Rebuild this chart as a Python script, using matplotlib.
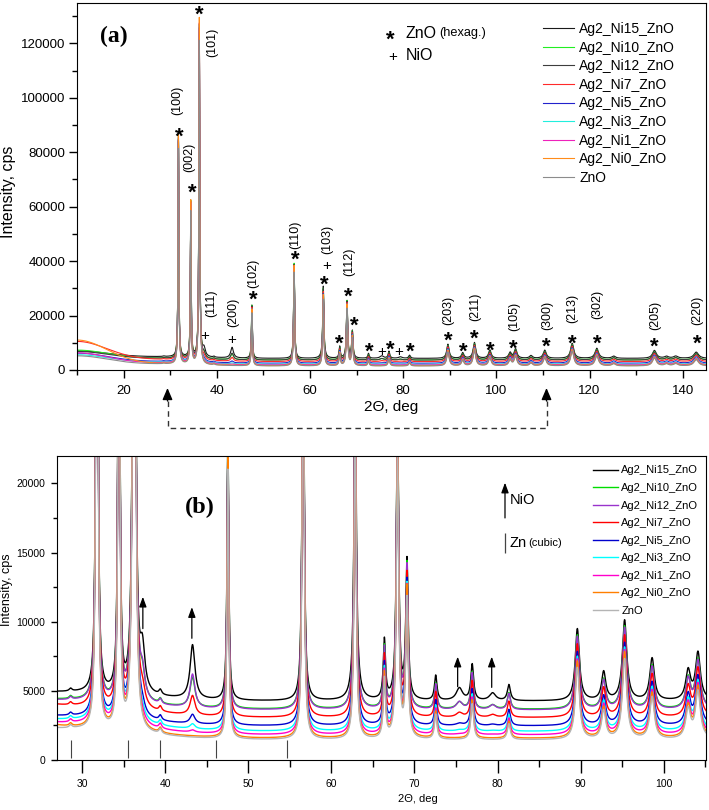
import numpy as np
import matplotlib
matplotlib.use('Agg')
import matplotlib.pyplot as plt
from matplotlib import font_manager
from matplotlib.lines import Line2D
from matplotlib.ticker import MultipleLocator, FormatStrFormatter

plt.rcParams['font.family'] = ['Liberation Sans', 'DejaVu Sans']
installed = {f.name for f in font_manager.fontManager.ttflist}
HAS_NARROW = 'Liberation Sans Narrow' in installed
if HAS_NARROW:
    NARROW = ['Liberation Sans Narrow', 'Liberation Sans', 'DejaVu Sans']
else:
    NARROW = ['Liberation Sans', 'DejaVu Sans']
SERIF = ['Liberation Serif', 'DejaVu Serif']

# samples, legend order
samples = ['Ag2_Ni15_ZnO', 'Ag2_Ni10_ZnO', 'Ag2_Ni12_ZnO', 'Ag2_Ni7_ZnO', 'Ag2_Ni5_ZnO',
           'Ag2_Ni3_ZnO', 'Ag2_Ni1_ZnO', 'Ag2_Ni0_ZnO', 'ZnO']
colors_a = ['#1a1a1a', '#22ee22', '#3d3d3d', '#ff2a2a', '#2222cc',
            '#22eedd', '#ee22bb', '#ff8c1a', '#8c8c8c']
colors_b = ['#000000', '#00dd00', '#9933cc', '#ff0000', '#0000cc',
            '#00ffff', '#ff00cc', '#ff7f00', '#b4b4b4']

# background (cps)
bg_level = [4250, 3650, 3600, 3050, 2450, 2050, 1800, 1550, 1450]   # flat part, 50-105 deg
bg_hump = [600, 650, 650, 750, 650, 800, 800, 700, 750]             # extra at 28 deg
bg_start = [7000, 7300, 6800, 10500, 6200, 5600, 6300, 11000, 5200]  # total at 10 deg

# peak intensity factors per sample
zno_scale = [1.0, 1.03, 1.02, 1.02, 1.03, 1.04, 1.05, 1.07, 1.0]
nio_scale = [1.0, 0.55, 0.62, 0.36, 0.17, 0.09, 0.04, 0.0, 0.0]

# ZnO (hexagonal) reflections: position, height above background, half width
zno_pos = [31.77, 34.42, 36.25, 47.54, 56.60, 62.86, 66.38, 67.96, 69.10, 72.56,
           76.95, 81.37, 89.61, 92.78, 95.30, 98.61, 102.95, 104.13, 107.43, 110.39,
           116.28, 121.56, 125.20, 133.93, 136.52, 138.50, 142.90]
zno_amp = [79000, 56000, 119000, 19500, 34500, 24500, 4300, 21000, 10000, 1800,
           2600, 1150, 5200, 2050, 5800, 3050, 2100, 3400, 1000, 3000,
           5500, 3700, 800, 2900, 700, 800, 2300]
zno_hw = [0.10, 0.10, 0.11, 0.12, 0.13, 0.14, 0.16, 0.16, 0.17, 0.18,
          0.20, 0.22, 0.30, 0.30, 0.32, 0.33, 0.35, 0.35, 0.36, 0.38,
          0.40, 0.44, 0.46, 0.50, 0.50, 0.55, 0.60]

# NiO (cubic) reflections, heights for Ag2_Ni15_ZnO
nio_pos = [37.25, 43.28, 62.88, 75.41, 79.41]
nio_amp = [3000, 3900, 2000, 900, 550]
nio_hw = [0.35, 0.35, 0.40, 0.45, 0.45]

# weak bumps common to all samples
minor_pos = [28.6, 39.4]
minor_amp = [200, 350]
minor_hw = [0.2, 0.2]

# Zn (cubic) reference lines in (b)
zn_lines = [28.7, 35.5, 39.4, 46.1, 54.7]

two_theta = np.arange(10, 145.01, 0.01)


def lorentz_sum(x, pos, amp, hw):
    out = np.zeros_like(x)
    for c, a, w in zip(pos, amp, hw):
        out += a * w ** 2 / ((x - c) ** 2 + w ** 2)
    return out


zno = lorentz_sum(two_theta, zno_pos, zno_amp, zno_hw)
nio = lorentz_sum(two_theta, nio_pos, nio_amp, nio_hw)
minor = lorentz_sum(two_theta, minor_pos, minor_amp, minor_hw)

curves = []
for i in range(len(samples)):
    hump = bg_hump[i] * np.where(two_theta < 28, 1.0, np.exp(-((two_theta - 28) / 12) ** 2))
    excess = (bg_start[i] - bg_level[i] - bg_hump[i]) * np.exp(-((two_theta - 10) / 9) ** 2)
    curves.append(bg_level[i] + hump + excess + zno_scale[i] * zno + nio_scale[i] * nio + minor)

W, H = 709, 810
fig = plt.figure(figsize=(W / 100, H / 100), dpi=100)
ax_a = fig.add_axes([77 / W, 1 - 370 / H, 629 / W, 367 / H])
ax_b = fig.add_axes([57.3 / W, 1 - 760 / H, 648.7 / W, 304.3 / H])

# ---- panel (a)
for y, c, name in zip(curves, colors_a, samples):
    ax_a.plot(two_theta, y, color=c, lw=0.8, label=name)
ax_a.set_xlim(10, 145)
ax_a.set_ylim(0, 134800)
ax_a.xaxis.set_major_locator(MultipleLocator(20))
ax_a.xaxis.set_minor_locator(MultipleLocator(10))
ax_a.yaxis.set_major_locator(MultipleLocator(20000))
ax_a.yaxis.set_minor_locator(MultipleLocator(10000))
ax_a.yaxis.set_major_formatter(FormatStrFormatter('%d'))
ax_a.tick_params(which='both', direction='out', labelsize=9.5, width=1)
ax_a.tick_params(which='major', length=5.5, pad=3)
ax_a.tick_params(which='minor', length=3.5)
ax_a.tick_params(axis='x', pad=5)
ax_a.set_xlabel('2Θ, deg', fontsize=11)
ax_a.xaxis.set_label_coords(0.5, -0.082)
ax_a.set_ylabel('Intensity, cps', fontsize=11.5)
ax_a.yaxis.set_label_coords(-0.097, 0.485)
ax_a.legend(loc='upper left', bbox_to_anchor=(0.741, 0.948), frameon=False, fontsize=10,
            handlelength=2.2, handletextpad=0.4, labelspacing=0.33, borderpad=0,
            borderaxespad=0)
ax_a.text(0.037, 0.91, '(a)', transform=ax_a.transAxes, fontsize=17, fontweight='bold',
          family=SERIF, ha='left', va='center')

hkl_labels = ['(100)', '(002)', '(101)', '(111)', '(200)', '(102)', '(110)', '(103)', '(112)',
              '(203)', '(211)', '(105)', '(300)', '(213)', '(302)', '(205)', '(220)']
hkl_x = [31.5, 34.1, 39.0, 38.8, 43.5, 47.8, 56.8, 63.7, 68.4,
         89.7, 95.5, 103.8, 110.9, 116.3, 121.7, 134.1, 143.1]
hkl_y = [99200, 78000, 120500, 24600, 21300, 35600, 49600, 47800, 39700,
         22000, 23200, 19500, 20200, 22700, 23900, 20200, 22000]
for t, x, y in zip(hkl_labels, hkl_x, hkl_y):
    ax_a.text(x, y, t, rotation=90, fontsize=9, ha='center', va='center')

star_x = [31.95, 34.7, 36.25, 47.8, 56.8, 63.1, 66.3, 68.2, 69.5, 72.7, 77.2, 81.5,
          89.7, 92.9, 95.3, 98.7, 103.6, 110.7, 116.3, 121.7, 133.9, 143.1]
star_y = [88200, 67600, 133000, 28300, 43000, 34000, 12100, 29400, 18700, 9200, 10000, 9200,
          13400, 9200, 14000, 9800, 10500, 11000, 12100, 12100, 11000, 12100]
for x, y in zip(star_x, star_y):
    ax_a.annotate('*', xy=(x, y), xytext=(0, -9.4), textcoords='offset points',
                  ha='center', va='baseline', fontsize=16, fontweight='bold')
plus_x = [37.5, 43.1, 63.5, 75.3, 79.1]
plus_y = [12900, 11700, 38600, 7300, 7300]
for x, y in zip(plus_x, plus_y):
    ax_a.annotate('+', xy=(x, y), xytext=(0, -4), textcoords='offset points',
                  ha='center', va='baseline', fontsize=11)

# phase key
ax_a.annotate('*', xy=((390.7 - 77) / 629, (370 - 33) / 367), xycoords='axes fraction',
              xytext=(0, -9.4), textcoords='offset points', ha='center', va='baseline',
              fontsize=16, fontweight='bold')
ax_a.text((406 - 77) / 629, (370 - 33) / 367, 'ZnO', transform=ax_a.transAxes,
          fontsize=11.5, ha='left', va='center')
ax_a.text((439 - 77) / 629, (370 - 33) / 367, '(hexag.)', transform=ax_a.transAxes,
          fontsize=9.2, ha='left', va='center')
ax_a.annotate('+', xy=((392.3 - 77) / 629, (370 - 55) / 367), xycoords='axes fraction',
              xytext=(0, -4), textcoords='offset points', ha='center', va='baseline',
              fontsize=11)
ax_a.text((406 - 77) / 629, (370 - 55) / 367, 'NiO', transform=ax_a.transAxes,
          fontsize=11.5, ha='left', va='center')

# ---- connector between panels
for xp in (167.5, 546.5):
    ax_a.annotate('', xy=(xp, H - 388), xycoords='figure pixels',
                  xytext=(xp, H - 401), textcoords='figure pixels',
                  arrowprops=dict(arrowstyle='-|>,head_length=0.7,head_width=0.3',
                                  color='black', lw=1, shrinkA=0, shrinkB=0))
fig.add_artist(Line2D([167.5 / W, 167.5 / W, 546.5 / W, 546.5 / W],
                      [1 - 401 / H, 1 - 428 / H, 1 - 428 / H, 1 - 401 / H],
                      transform=fig.transFigure, color='#333333', lw=1,
                      ls=(0, (4, 3))))

# ---- panel (b)
small = 9.5 if HAS_NARROW else 8
for y, c, name in zip(curves, colors_b, samples):
    ax_b.plot(two_theta, y, color=c, lw=1.0, label=name)
ax_b.vlines(zn_lines, 150, 1450, color='#444444', lw=0.8)
ax_b.set_xlim(27, 105.1)
ax_b.set_ylim(0, 22000)
ax_b.xaxis.set_major_locator(MultipleLocator(10))
ax_b.xaxis.set_minor_locator(MultipleLocator(5))
ax_b.yaxis.set_major_locator(MultipleLocator(5000))
ax_b.yaxis.set_minor_locator(MultipleLocator(2500))
ax_b.tick_params(which='both', direction='out', width=1,
                 labelsize=8 if HAS_NARROW else 7.5)
ax_b.tick_params(axis='x', which='major', length=9, pad=5)
ax_b.tick_params(axis='x', which='minor', length=5)
ax_b.tick_params(axis='y', which='major', length=4.5, pad=4)
ax_b.tick_params(axis='y', which='minor', length=3)
for lab in ax_b.get_xticklabels() + ax_b.get_yticklabels():
    lab.set_family(NARROW)
ax_b.set_xlabel('2Θ, deg', fontsize=9 if HAS_NARROW else 8, family=NARROW)
ax_b.xaxis.set_label_coords(0.556, -0.112)
ax_b.set_ylabel('Intensity, cps', fontsize=9)
ax_b.yaxis.set_label_coords(-0.068, 0.559)
ax_b.legend(loc='upper left', bbox_to_anchor=(0.826, 0.968), frameon=False,
            prop={'family': NARROW, 'size': small}, handlelength=2.2, handletextpad=0.35,
            labelspacing=0.68, borderpad=0, borderaxespad=0)
ax_b.text(0.197, 0.83, '(b)', transform=ax_b.transAxes, fontsize=17.5, fontweight='bold',
          family=SERIF, ha='left', va='center')

# NiO arrows over the peaks
arrow_x = [37.3, 43.2, 75.2, 79.3]
arrow_y0 = [9500, 8800, 5300, 5250]
arrow_y1 = [11800, 11050, 7470, 7470]
for x, y0, y1 in zip(arrow_x, arrow_y0, arrow_y1):
    ax_b.annotate('', xy=(x, y1), xytext=(x, y0),
                  arrowprops=dict(arrowstyle='-|>,head_length=0.6,head_width=0.22',
                                  color='black', lw=0.9, shrinkA=0, shrinkB=0))

# key
ax_b.annotate('', xy=(80.9, 20050), xytext=(80.9, 17500),
              arrowprops=dict(arrowstyle='-|>,head_length=0.6,head_width=0.22',
                              color='black', lw=0.9, shrinkA=0, shrinkB=0))
ax_b.text(81.5, 18800, 'NiO', fontsize=10.5, family=NARROW, ha='left', va='center')
ax_b.vlines([80.9], 14950, 16400, color='#444444', lw=0.9)
ax_b.text(81.5, 15700, 'Zn', fontsize=10.5, family=NARROW, ha='left', va='center')
ax_b.text(83.7, 15700, '(cubic)', fontsize=8, family=NARROW, ha='left', va='center')

fig.savefig('out.png', dpi=100)
